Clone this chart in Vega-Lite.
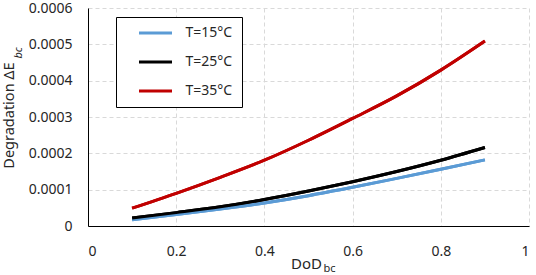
{
  "$schema": "https://vega.github.io/schema/vega-lite/v6.json",
  "width": 441,
  "height": 218,
  "autosize": "none",
  "padding": {"left": 88, "top": 8, "right": 7, "bottom": 49},
  "background": "white",
  "config": {
    "view": {"stroke": null},
    "font": "Noto Sans",
    "axis": {"labelFont": "Noto Sans", "titleFont": "Noto Sans", "labelColor": "#262626", "titleColor": "#262626", "titleFontWeight": "normal"}
  },
  "data": {
    "values": [
      {"DoD": 0.1, "dE": 0.0000174, "T": "T=15°C"},
      {"DoD": 0.2, "dE": 0.0000315, "T": "T=15°C"},
      {"DoD": 0.3, "dE": 0.0000468, "T": "T=15°C"},
      {"DoD": 0.4, "dE": 0.0000635, "T": "T=15°C"},
      {"DoD": 0.5, "dE": 0.0000835, "T": "T=15°C"},
      {"DoD": 0.6, "dE": 0.0001065, "T": "T=15°C"},
      {"DoD": 0.7, "dE": 0.000131, "T": "T=15°C"},
      {"DoD": 0.8, "dE": 0.000156, "T": "T=15°C"},
      {"DoD": 0.9, "dE": 0.000182, "T": "T=15°C"},
      {"DoD": 0.1, "dE": 0.000022, "T": "T=25°C"},
      {"DoD": 0.2, "dE": 0.0000368, "T": "T=25°C"},
      {"DoD": 0.3, "dE": 0.0000528, "T": "T=25°C"},
      {"DoD": 0.4, "dE": 0.0000728, "T": "T=25°C"},
      {"DoD": 0.5, "dE": 0.0000963, "T": "T=25°C"},
      {"DoD": 0.6, "dE": 0.000122, "T": "T=25°C"},
      {"DoD": 0.7, "dE": 0.00015, "T": "T=25°C"},
      {"DoD": 0.8, "dE": 0.000181, "T": "T=25°C"},
      {"DoD": 0.9, "dE": 0.000216, "T": "T=25°C"},
      {"DoD": 0.1, "dE": 0.000049, "T": "T=35°C"},
      {"DoD": 0.2, "dE": 0.00009, "T": "T=35°C"},
      {"DoD": 0.3, "dE": 0.000134, "T": "T=35°C"},
      {"DoD": 0.4, "dE": 0.000181, "T": "T=35°C"},
      {"DoD": 0.5, "dE": 0.000236, "T": "T=35°C"},
      {"DoD": 0.6, "dE": 0.000296, "T": "T=35°C"},
      {"DoD": 0.7, "dE": 0.000358, "T": "T=35°C"},
      {"DoD": 0.8, "dE": 0.000429, "T": "T=35°C"},
      {"DoD": 0.9, "dE": 0.000509, "T": "T=35°C"}
    ]
  },
  "resolve": {"axis": {"x": "independent", "y": "independent"}},
  "layer": [
    {
      "mark": {"type": "line", "strokeWidth": 3, "interpolate": "monotone"},
      "encoding": {
        "x": {
          "field": "DoD", "type": "quantitative",
          "scale": {"domain": [0, 1], "nice": false, "zero": false},
          "axis": {
            "orient": "bottom",
            "values": [0, 0.2, 0.4, 0.6, 0.8, 1],
            "format": ".1~f",
            "labelFontSize": 14, "labelPadding": 18, "ticks": false, "tickSize": 0,
            "domainColor": "#000000", "domainWidth": 1,
            "grid": true, "gridColor": "#D9D9D9", "gridDash": [4, 3], "gridWidth": 1,
            "title": "DoD", "titleFontSize": 15,
            "titleAlign": "center", "titleBaseline": "alphabetic", "titleX": 218, "titleY": 42
          }
        },
        "y": {
          "field": "dE", "type": "quantitative",
          "scale": {"domain": [0, 0.0006], "nice": false},
          "axis": {
            "orient": "left",
            "values": [0, 0.0001, 0.0002, 0.0003, 0.0004, 0.0005, 0.0006],
            "format": ".4~f",
            "labelFontSize": 14, "labelPadding": 16, "ticks": false, "tickSize": 0,
            "domainColor": "#000000", "domainWidth": 1,
            "grid": true, "gridColor": "#D9D9D9", "gridDash": [4, 3], "gridWidth": 1,
            "title": "Degradation ΔE", "titleFontSize": 14.5, "titleAngle": 270,
            "titleAlign": "center", "titleBaseline": "alphabetic", "titleX": -74.5, "titleY": 107
          }
        },
        "color": {
          "field": "T", "type": "nominal",
          "scale": {"domain": ["T=15°C", "T=25°C", "T=35°C"], "range": ["#5B9BD5", "#000000", "#C00000"]},
          "legend": {
            "title": null, "orient": "none", "legendX": 28, "legendY": 9,
            "strokeColor": "#000000", "fillColor": "#ffffff", "padding": 9,
            "symbolType": "stroke", "symbolSize": 1089, "symbolStrokeWidth": 3,
            "clipHeight": 14, "rowPadding": 15, "symbolOffset": 12.5, "labelOffset": 12,
            "labelFontSize": 14, "labelColor": "#262626", "labelFont": "Noto Sans",
            "labelExpr": "datum.label + '\u00a0\u00a0\u00a0'"
          }
        }
      }
    },
    {
      "mark": {"type": "line", "strokeWidth": 3, "interpolate": "monotone"},
      "encoding": {
        "x": {
          "field": "DoD", "type": "quantitative",
          "axis": {
            "orient": "top", "labels": false, "ticks": false, "domain": false, "grid": false,
            "title": "bc", "titleFontSize": 11, "titleAlign": "left", "titleBaseline": "alphabetic",
            "titleX": 235, "titleY": 263
          }
        },
        "y": {
          "field": "dE", "type": "quantitative",
          "axis": {
            "orient": "right", "labels": false, "ticks": false, "domain": false, "grid": false,
            "title": "bc", "titleFontSize": 11, "titleFontStyle": "italic", "titleAngle": 270,
            "titleAlign": "left", "titleBaseline": "alphabetic",
            "titleX": -508, "titleY": 50
          }
        },
        "color": {"field": "T", "type": "nominal"}
      }
    }
  ]
}
